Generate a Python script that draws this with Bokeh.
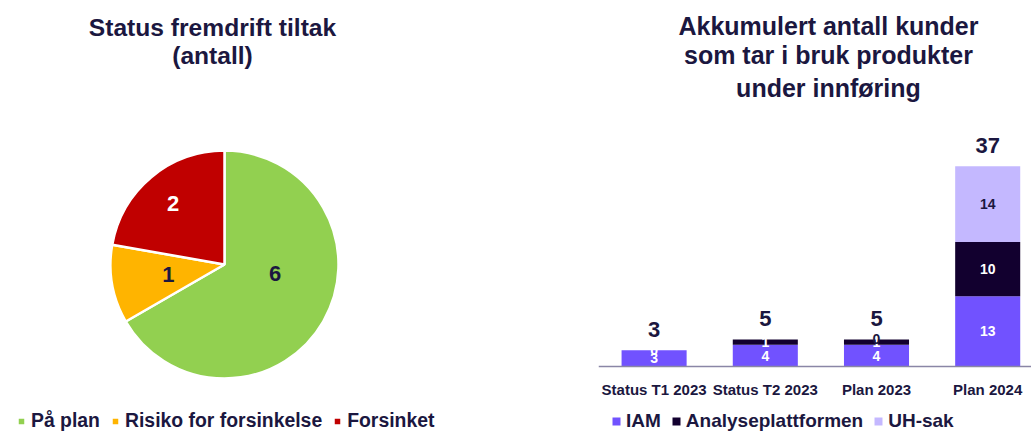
import numpy as np
from bokeh.plotting import figure
from bokeh.layouts import row
from bokeh.models import Range1d, Legend, LegendItem, FixedTicker, ColumnDataSource
from bokeh.core.properties import value
from bokeh.embed import file_html
from bokeh.resources import INLINE

# ---------------- data ----------------
pie_title = ["Status fremdrift tiltak", "(antall)"]
status = ["På plan", "Risiko for forsinkelse", "Forsinket"]
status_counts = [6, 1, 2]
status_colors = ["#92D050", "#FFB400", "#C00000"]
status_label_colors = ["#1B1740", "#1B1740", "#FFFFFF"]

bar_title = ["Akkumulert antall kunder", "som tar i bruk produkter", "under innføring"]
periods = ["Status T1 2023", "Status T2 2023", "Plan 2023", "Plan 2024"]
series = ["IAM", "Analyseplattformen", "UH-sak"]
iam = [3, 4, 4, 13]
analyse = [0, 1, 1, 10]
uh_sak = [None, None, 0, 14]
series_colors = ["#7152FF", "#12002F", "#C4B8FF"]
series_label_colors = ["#FFFFFF", "#FFFFFF", "#1B1740"]

FONT_NAME = "Liberation Sans"
FONT = value(FONT_NAME)
NAVY = "#1B1740"
H = 432

# ---------------- left: pie ----------------
W1 = 598
p1 = figure(width=W1, height=H, x_range=Range1d(0, W1), y_range=Range1d(0, H),
            output_backend="svg", toolbar_location=None, min_border=0,
            x_axis_location=None, y_axis_location=None, outline_line_color=None)
p1.grid.visible = False

cx, cy, R = 224, 168, 114
vals = np.array(status_counts, dtype=float)
tot = vals.sum()
cum_after = np.cumsum(vals)
cum_before = cum_after - vals
start_cw = np.pi / 2 - 2 * np.pi * cum_before / tot
end_cw = np.pi / 2 - 2 * np.pi * cum_after / tot
# label placement (best-fit style nudges)
label_angle = (start_cw + end_cw) / 2 + np.radians([20, 0, 0])
label_r = np.array([0.45, 0.5, 0.7]) * R

pie_src = ColumnDataSource(dict(
    status=status, count=status_counts, color=status_colors,
    start=end_cw, end=start_cw,
    x=[cx] * 3, y=[cy] * 3,
    lx=cx + label_r * np.cos(label_angle), ly=cy + label_r * np.sin(label_angle),
    ltext=[str(v) for v in status_counts], lcolor=status_label_colors,
))
wr = p1.wedge(x="x", y="y", radius=R, start_angle="start", end_angle="end",
              direction="anticlock", fill_color="color", line_color="white",
              line_width=2.5, source=pie_src)
p1.text(x="lx", y="ly", text="ltext", text_color="lcolor", source=pie_src,
        text_font=FONT, text_font_style="bold", text_font_size="22px",
        text_align="center", text_baseline="middle")

p1.text(x=[212, 212], y=[405, 377], text=pie_title, text_font=FONT,
        text_font_style="bold", text_font_size="24.6px", text_color=NAVY,
        text_align="center", text_baseline="middle")

leg1 = Legend(items=[LegendItem(label=s, renderers=[wr], index=i) for i, s in enumerate(status)],
              location=(16, 0), orientation="horizontal",
              label_text_font=FONT_NAME, label_text_font_style="bold",
              label_text_font_size="19.4px", label_text_color=NAVY,
              glyph_width=10, glyph_height=10, label_standoff=5, spacing=10,
              padding=0, margin=0, background_fill_alpha=0, border_line_color=None)
p1.add_layout(leg1)

# ---------------- right: stacked bars ----------------
W2 = 1031 - W1
SPACING = 111.2
PX_PER_UNIT = 5.41
BASE_PX = 366
p2 = figure(width=W2, height=H,
            x_range=Range1d(-0.5, -0.5 + W2 / SPACING),
            y_range=Range1d(-(H - BASE_PX) / PX_PER_UNIT, BASE_PX / PX_PER_UNIT),
            output_backend="svg", toolbar_location=None, min_border=0,
            y_axis_location=None, outline_line_color=None)
p2.grid.visible = False

uh_vals = [v if v is not None else 0 for v in uh_sak]
xs = list(range(len(periods)))
bar_src = ColumnDataSource(dict(x=xs, IAM=iam, Analyseplattformen=analyse, UH=uh_vals))
renderers = p2.vbar_stack(["IAM", "Analyseplattformen", "UH"], x="x", width=0.585,
                          color=series_colors, line_color=None, source=bar_src)

# segment labels
lx, ly, lt, lc = [], [], [], []
bottoms = np.zeros(len(periods))
for vals_s, col, raw in zip([iam, analyse, uh_vals], series_label_colors, [iam, analyse, uh_sak]):
    for i, v in enumerate(vals_s):
        if raw[i] is not None:
            lx.append(xs[i]); ly.append(bottoms[i] + v / 2); lt.append(str(v)); lc.append(col)
    bottoms = bottoms + np.array(vals_s)
p2.text(x=lx, y=ly, text=lt, text_color=lc, text_font=FONT, text_font_style="bold",
        text_font_size="14px", text_align="center", text_baseline="middle")

# totals
totals = [int(t) for t in bottoms]
p2.text(x=xs, y=totals, text=[str(t) for t in totals], text_color=NAVY, text_font=FONT,
        text_font_style="bold", text_font_size="22px", text_align="center",
        text_baseline="middle", y_offset=-21)

# title
p2.text(x=[1.568] * 3, y=[63.03, 57.49, 51.57], text=bar_title, text_font=FONT,
        text_font_style="bold", text_font_size="25px", text_color=NAVY,
        text_align="center", text_baseline="middle")

ax = p2.xaxis[0]
ax.fixed_location = 0
ax.ticker = FixedTicker(ticks=xs)
ax.major_label_overrides = {i: p for i, p in enumerate(periods)}
ax.major_tick_line_color = None
ax.minor_tick_line_color = None
ax.axis_line_color = "#8A86A6"
ax.axis_line_width = 1.5
ax.major_label_standoff = 8
ax.major_label_text_font = FONT_NAME
ax.major_label_text_font_style = "bold"
ax.major_label_text_font_size = "15px"
ax.major_label_text_color = NAVY

leg2 = Legend(items=[LegendItem(label=s, renderers=[r]) for s, r in zip(series, renderers)],
              location=(13, 0), orientation="horizontal",
              label_text_font=FONT_NAME, label_text_font_style="bold",
              label_text_font_size="19px", label_text_color=NAVY,
              glyph_width=10, glyph_height=10, label_standoff=5, spacing=10,
              padding=0, margin=0, background_fill_alpha=0, border_line_color=None)
p2.add_layout(leg2)

layout = row(p1, p2)
open("out.html", "w").write(file_html(layout, INLINE))
